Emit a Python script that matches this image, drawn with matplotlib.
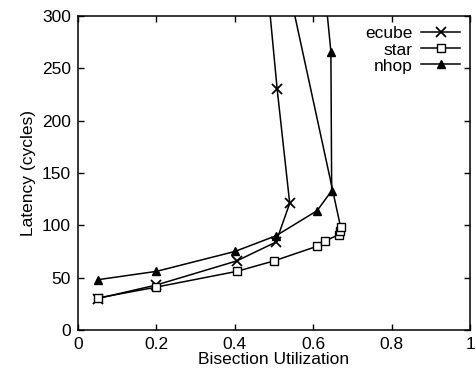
import matplotlib
matplotlib.use("Agg")
import matplotlib.pyplot as plt

plt.rcParams['font.family'] = ['Liberation Sans', 'DejaVu Sans']

ecube_x = [0.05, 0.2, 0.405, 0.505, 0.54, 0.508, 0.46]
ecube_y = [30, 43, 66, 84, 121, 230, 420]
star_x = [0.05, 0.2, 0.405, 0.5, 0.61, 0.63, 0.665, 0.668, 0.67, 0.53]
star_y = [30.5, 41, 56, 66, 80, 85, 91, 95, 98, 340]
nhop_x = [0.05, 0.2, 0.4, 0.505, 0.61, 0.647, 0.645, 0.61]
nhop_y = [48, 56, 75, 90, 114, 133, 266, 400]

xticks = [0, 0.2, 0.4, 0.6, 0.8, 1]
xticklabels = ['0', '0.2', '0.4', '0.6', '0.8', '1']
yticks = [0, 50, 100, 150, 200, 250, 300]

fig = plt.figure(figsize=(4.77, 3.73), dpi=100)
ax = fig.add_axes([0.1635, 0.1153, 0.822, 0.842])

ax.plot(ecube_x, ecube_y, color='black', lw=1.1, marker='x', ms=7, mew=1.3, label='ecube')
ax.plot(star_x, star_y, color='black', lw=1.1, marker='s', ms=6, mfc='white', mew=1.0, label='star')
ax.plot(nhop_x, nhop_y, color='black', lw=1.1, marker='^', ms=6, label='nhop')

ax.set_xlim(0, 1)
ax.set_ylim(0, 300)
ax.set_xticks(xticks)
ax.set_xticklabels(xticklabels)
ax.set_yticks(yticks)
ax.tick_params(direction='in', top=True, right=True, labelsize=12.5, length=4, width=1, pad=5)
for s in ax.spines.values():
    s.set_linewidth(1.1)
ax.set_xlabel('Bisection Utilization', fontsize=12.5, labelpad=0)
ax.set_ylabel('Latency (cycles)', fontsize=12.5, labelpad=4)

leg = ax.legend(loc='upper right', frameon=False, markerfirst=False, fontsize=12.5,
                handlelength=2.2, handletextpad=0.5, labelspacing=0.05,
                borderaxespad=0.2)
for t in leg.get_texts():
    t.set_ha('right')
fig.savefig('out.png', dpi=100)
